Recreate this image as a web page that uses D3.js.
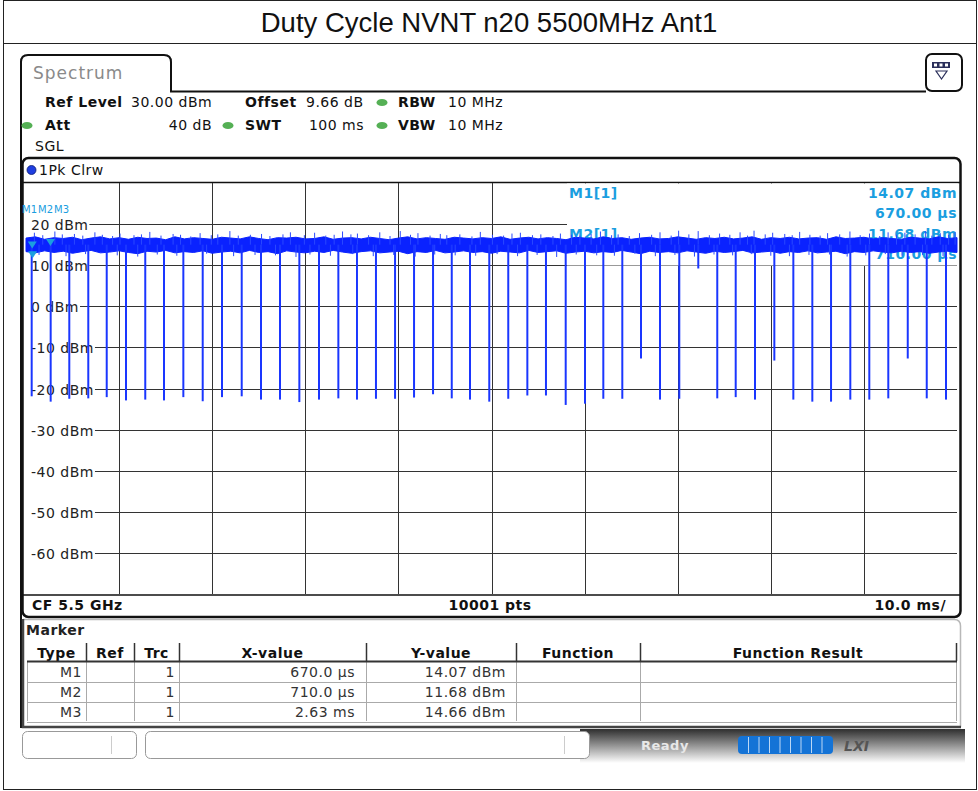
<!DOCTYPE html>
<html><head><meta charset="utf-8">
<script src="https://cdn.jsdelivr.net/npm/d3@7"></script>
<style>
body{margin:0;background:#fff}
svg{display:block}
.inst{font-family:"DejaVu Sans",Verdana,sans-serif;font-size:14px;letter-spacing:0.5px}
.b{font-weight:bold}
</style>
</head><body>
<svg id="c" width="978" height="791"></svg>
<script>
// ---------------- data ----------------
const chartTitle = "Duty Cycle NVNT n20 5500MHz Ant1";
const yTickValues = [20, 10, 0, -10, -20, -30, -40, -50, -60];
const yTickLabels = ["20 dBm", "10 dBm", "0 dBm", "-10 dBm", "-20 dBm", "-30 dBm", "-40 dBm", "-50 dBm", "-60 dBm"];
const xDivisions = [10, 20, 30, 40, 50, 60, 70, 80, 90];
// dips (off periods) of the burst train: time in ms, level in dBm
const dipTimes = [0.61,2.65,4.65,6.69,8.67,10.74,12.81,14.82,16.90,18.98,21.05,23.17,25.24,27.28,29.36,31.47,33.55,35.55,37.59,39.64,41.68,43.72,45.73,47.69,49.76,51.80,53.85,55.85,57.97,60.04,62.01,64.05,66.06,68.10,70.17,72.21,74.25,76.23,78.30,80.38,82.42,84.46,86.47,88.54,90.58,92.62,94.71,96.75,98.82];
const dipLevels = [-21.9,-23.2,-22.5,-22.4,-22.1,-22.9,-22.7,-22.9,-22.1,-23.1,-22.1,-21.9,-22.7,-22.7,-23.3,-22.7,-22.4,-22.7,-22.5,-22.5,-22.2,-21.4,-22.4,-22.7,-23.2,-22.5,-21.7,-21.7,-24.0,-23.7,-22.5,-22.5,-12.7,-22.7,-22.5,9.2,-22.4,-22.1,-22.7,-13.2,-22.7,-23.2,-23.2,-22.7,-22.7,-22.4,-12.7,-22.4,-22.7];
// on-level noise band envelope, read every 1 ms (0..100 ms)
const bandHigh = [16.6,16.9,16.3,16.7,16.5,16.8,16.2,16.6,16.9,16.4,16.7,16.3,16.8,16.5,16.6,16.2,16.9,16.4,16.7,16.5,16.3,16.8,16.6,16.4,16.9,16.5,16.2,16.7,16.6,16.8,16.4,16.5,16.9,16.3,16.6,16.7,16.4,16.8,16.5,16.2,16.6,16.9,16.4,16.7,16.5,16.3,16.8,16.6,16.4,16.7,16.5,16.9,16.3,16.6,16.8,16.4,16.7,16.5,16.2,16.8,16.6,16.4,16.9,16.5,16.7,16.3,16.6,16.8,16.4,16.5,16.9,16.6,16.3,16.7,16.5,16.8,16.4,16.6,16.9,16.3,16.7,16.5,16.8,16.4,16.6,16.7,16.3,16.9,16.5,16.6,16.8,16.4,16.7,16.5,16.3,16.8,16.6,16.4,16.9,16.5,16.7];
const bandLow = [13.3,13.0,13.5,13.1,13.4,12.9,13.3,13.6,13.0,13.2,13.5,13.1,12.8,13.4,13.2,13.6,13.0,13.3,13.1,13.5,12.9,13.2,13.4,13.0,13.6,13.1,13.3,12.8,13.5,13.2,13.0,13.4,13.1,13.6,13.2,12.9,13.3,13.5,13.0,13.2,13.4,12.8,13.3,13.1,13.6,13.0,13.2,13.5,13.1,13.3,12.9,13.4,13.2,13.0,13.6,13.1,13.3,13.5,12.9,13.2,13.4,13.0,13.3,13.1,13.6,13.2,12.8,13.4,13.1,13.3,13.0,13.5,13.2,12.9,13.4,13.1,13.3,13.6,13.0,13.2,13.4,12.9,13.3,13.1,13.5,13.0,13.2,13.4,12.8,13.3,13.1,13.5,13.2,13.0,13.4,13.1,13.3,12.9,13.2,13.4,13.1];
// upward noise spikes: time (ms), peak (dBm)
const spikeTimes = [0.9,1.8,3.1,3.9,5.2,6.1,7.4,8.2,9.3,10.1,11.6,12.4,13.3,14.5,15.8,16.6,17.7,18.7,19.9,20.6,21.9,22.8,24.1,25.3,26.2,27.6,28.4,29.9,31.0,32.2,33.1,34.0,34.9,35.6,36.8,38.0,39.1,40.2,41.3,42.1,43.4,44.5,45.2,46.6,47.9,48.8,50.1,51.3,52.2,53.1,54.4,55.3,56.6,57.4,58.6,59.5,60.7,61.7,62.9,63.6,64.8,65.9,67.2,68.1,69.3,70.1,71.2,72.2,73.4,74.5,75.6,76.7,77.5,78.2,79.4,80.2,81.5,82.3,83.1,84.2,85.3,86.1,87.4,88.5,89.6,90.6,91.7,92.6,93.5,94.4,95.5,96.6,97.3,98.2,99.1,99.8];
const spikeLevels = [17.9,17.3,18.2,17.5,17.6,17.2,18.0,17.4,17.1,17.7,17.3,17.5,18.1,17.2,17.6,17.4,17.0,17.8,17.3,17.5,18.3,17.2,17.4,17.6,17.1,17.5,18.0,17.3,17.9,17.2,17.4,18.2,17.5,17.7,17.3,18.0,17.1,18.3,17.4,17.8,17.2,17.6,17.3,17.5,17.0,18.1,17.4,17.2,17.7,17.9,17.3,17.5,17.1,17.7,17.4,17.2,17.6,18.2,17.3,17.5,17.1,17.8,17.4,18.0,17.2,18.4,17.5,18.3,17.3,17.7,17.4,18.0,17.2,18.4,17.5,17.9,17.6,17.3,18.1,17.4,17.2,17.8,17.5,18.2,17.3,17.7,17.1,18.0,17.4,17.9,17.5,18.3,17.2,17.8,17.4,18.1];
// downward noise spikes: time (ms), trough (dBm)
const dropTimes = [1.4,4.3,6.4,9.8,12.0,14.1,16.2,19.4,22.3,24.6,26.8,29.0,30.5,32.7,35.1,37.3,39.5,41.8,43.9,46.1,48.3,50.6,52.8,54.9,57.0,59.1,61.3,63.2,65.4,67.6,69.7,71.8,73.9,75.9,77.9,80.0,82.0,84.1,86.3,88.2,90.2,92.3,94.1,96.3,98.5];
const dropLevels = [12.5,12.2,12.7,12.4,12.1,12.6,12.3,12.8,12.2,12.5,12.4,12.0,12.6,12.3,12.7,12.2,12.5,12.1,12.6,12.4,12.3,12.7,12.2,12.5,12.0,12.6,12.4,12.3,12.8,12.2,12.5,12.1,12.6,12.4,12.7,12.3,12.2,12.5,12.6,12.1,12.4,12.7,12.3,12.5,12.2];
// markers
const markerNames = ["M1", "M2", "M3"];
const markerTimes = [0.67, 0.71, 2.63];
const markerLevels = [14.07, 11.68, 14.66];
// header / settings texts
const settingsRow1 = ["Ref Level", "30.00 dBm", "Offset", "9.66 dB", "RBW", "10 MHz"];
const settingsRow2 = ["Att", "40 dB", "SWT", "100 ms", "VBW", "10 MHz"];
// marker table
const tableHeaders = ["Type", "Ref", "Trc", "X-value", "Y-value", "Function", "Function Result"];
const tableType = ["M1", "M2", "M3"];
const tableTrc = ["1", "1", "1"];
const tableX = ["670.0 µs", "710.0 µs", "2.63 ms"];
const tableY = ["14.07 dBm", "11.68 dBm", "14.66 dBm"];
const markerInfo = [["M1[1]", "14.07 dBm", "670.00 µs"], ["M2[1]", "11.68 dBm", "710.00 µs"]];

// ---------------- drawing ----------------
const svg = d3.select("#c");
const L = 26, R = 957, T = 183, B = 594;
const x = d3.scaleLinear().domain([0, 100]).range([L, R]);
const y = d3.scaleLinear().domain([-70, 30]).range([B, T]);
const traceBlue = "#0a22ff";
const markBlue = "#1a9ee0";
const ink = "#111";

// outer frame + title
svg.append("rect").attr("x", 3.5).attr("y", 0.5).attr("width", 973).attr("height", 789)
  .attr("fill", "none").attr("stroke", "#222").attr("stroke-width", 1);
svg.append("line").attr("x1", 3.5).attr("x2", 976.5).attr("y1", 43.5).attr("y2", 43.5).attr("stroke", "#222");
svg.append("text").attr("x", 489).attr("y", 32).attr("text-anchor", "middle")
  .style("font-family", "'Liberation Sans',Arial,sans-serif").style("font-size", "27.5px").attr("fill", ink)
  .text(chartTitle);

// spectrum tab
svg.append("path").attr("d", "M21,728 L21,62 Q21,55 28,55 L164,55 Q171,55 171,62 L171,91.5 L926,91.5")
  .attr("fill", "none").attr("stroke", ink).attr("stroke-width", 2);
svg.append("text").attr("class", "inst").attr("x", 33).attr("y", 79).style("font-size", "17px")
  .style("letter-spacing", "1px").attr("fill", "#8a8a8a").text("Spectrum");
// right button
svg.append("rect").attr("x", 926).attr("y", 54).attr("width", 36).attr("height", 37).attr("rx", 6)
  .attr("fill", "#fff").attr("stroke", ink).attr("stroke-width", 2);
svg.append("rect").attr("x", 932).attr("y", 62).attr("width", 18).attr("height", 6).attr("fill", "#2a2f5a");
[934, 939.5, 945].forEach(v => svg.append("rect").attr("x", v).attr("y", 63.5).attr("width", 3).attr("height", 3).attr("fill", "#fff"));
svg.append("path").attr("d", "M936,71 L947,71 L941.5,79 Z").attr("fill", "#fff").attr("stroke", "#2a2f5a").attr("stroke-width", 1.2);

// settings
function greenDot(cx, cy) {
  svg.append("ellipse").attr("cx", cx).attr("cy", cy).attr("rx", 5.5).attr("ry", 3.6).attr("fill", "#55b055");
}
function txt(cls, tx, ty, s, anchor, color) {
  return svg.append("text").attr("class", cls).attr("x", tx).attr("y", ty)
    .attr("text-anchor", anchor || "start").attr("fill", color || ink).text(s);
}
const r1 = 107, r2 = 130;
txt("inst b", 45, r1, settingsRow1[0]);
txt("inst", 131, r1, settingsRow1[1]);
txt("inst b", 245, r1, settingsRow1[2]);
txt("inst", 306, r1, settingsRow1[3]);
greenDot(382, 102.5);
txt("inst b", 398, r1, settingsRow1[4]);
txt("inst", 448, r1, settingsRow1[5]);
greenDot(27, 125.5);
txt("inst b", 45, r2, settingsRow2[0]);
txt("inst", 212, r2, settingsRow2[1], "end");
greenDot(228, 125.5);
txt("inst b", 245, r2, settingsRow2[2]);
txt("inst", 364, r2, settingsRow2[3], "end");
greenDot(382, 125.5);
txt("inst b", 398, r2, settingsRow2[4]);
txt("inst", 448, r2, settingsRow2[5]);
txt("inst", 35, 151, "SGL");

// plot panel
svg.append("rect").attr("x", 22.5).attr("y", 158).attr("width", 938).attr("height", 459).attr("rx", 6)
  .attr("fill", "#fff").attr("stroke", ink).attr("stroke-width", 2.5);
svg.append("circle").attr("cx", 31.5).attr("cy", 170).attr("r", 4.5).attr("fill", "#1e3ee0").attr("stroke", "#0a1a70").attr("stroke-width", 0.8);
txt("inst", 39, 175, "1Pk Clrw");
svg.append("line").attr("x1", 23).attr("x2", 960).attr("y1", T - 0.5).attr("y2", T - 0.5).attr("stroke", ink).attr("stroke-width", 1.5);
svg.append("line").attr("x1", 23).attr("x2", 960).attr("y1", B + 1).attr("y2", B + 1).attr("stroke", ink).attr("stroke-width", 1.5);

// grid
const grid = svg.append("g");
xDivisions.forEach(d => grid.append("line").attr("x1", Math.round(x(d)) + 0.5).attr("x2", Math.round(x(d)) + 0.5)
  .attr("y1", T).attr("y2", B).attr("stroke", "#333").attr("stroke-width", 1));
yTickValues.forEach((v, i) => {
  const yy = Math.round(y(v)) + 0.5;
  const t = grid.append("text").attr("class", "inst").attr("x", 31).attr("y", yy + 5).attr("fill", "#222").text(yTickLabels[i]);
  const w = t.node().getComputedTextLength();
  grid.append("line").attr("x1", 31 + w + 1).attr("x2", R).attr("y1", yy).attr("y2", yy).attr("stroke", "#333").attr("stroke-width", 1);
});
// marker info box
svg.append("rect").attr("x", 567).attr("y", T + 0.5).attr("width", R - 567 + 1).attr("height", 82).attr("fill", "#fff");
const infoY = [198, 218, 239, 259];
markerInfo.forEach((m, i) => {
  txt("inst b", 569, infoY[i * 2], m[0], "start", markBlue);
  txt("inst b", 957, infoY[i * 2], m[1], "end", markBlue);
  txt("inst b", 957, infoY[i * 2 + 1], m[2], "end", markBlue);
});

// trace
const tr = svg.append("g");
const bandStep = 100 / (bandHigh.length - 1);
const area = d3.area().x((d, i) => x(i * bandStep)).y0((d, i) => y(bandLow[i])).y1(d => y(d));
tr.append("path").datum(bandHigh).attr("d", area).attr("fill", traceBlue).attr("stroke", traceBlue).attr("stroke-width", 1);
spikeTimes.forEach((t, i) => tr.append("line").attr("x1", x(t)).attr("x2", x(t)).attr("y1", y(15)).attr("y2", y(spikeLevels[i]))
  .attr("stroke", "#2a48ff").attr("stroke-width", 1));
dropTimes.forEach((t, i) => tr.append("line").attr("x1", x(t)).attr("x2", x(t)).attr("y1", y(15)).attr("y2", y(dropLevels[i]))
  .attr("stroke", "#2a48ff").attr("stroke-width", 1));
dipTimes.forEach((t, i) => tr.append("line").attr("x1", x(t)).attr("x2", x(t)).attr("y1", y(15)).attr("y2", y(dipLevels[i]))
  .attr("stroke", "#1a36ff").attr("stroke-width", 2));

// markers
markerNames.forEach((n, i) => {
  const px = x(markerTimes[i]), py = y(markerLevels[i]);
  svg.append("path").attr("d", `M${px - 4.5},${py - 7} L${px + 4.5},${py - 7} L${px},${py} Z`).attr("fill", markBlue);
});
const mlab = [[22, 213], [38, 213], [54, 213]];
markerNames.forEach((n, i) => svg.append("text").attr("class", "inst").attr("x", mlab[i][0]).attr("y", mlab[i][1])
  .style("font-size", "10px").style("letter-spacing", "0px").attr("fill", markBlue).text(n));

// footer of plot panel
txt("inst b", 32, 610, "CF 5.5 GHz");
txt("inst b", 490, 610, "10001 pts", "middle");
txt("inst b", 946, 610, "10.0 ms/", "end");

// marker table panel
svg.append("path").attr("d", "M23,619.5 L954,619.5 Q960.5,619.5 960.5,626 L960.5,727")
  .attr("fill", "none").attr("stroke", "#b8b8b8").attr("stroke-width", 1.5);
svg.append("path").attr("d", "M23,619 L23,727 L961,727").attr("fill", "none").attr("stroke", "#444").attr("stroke-width", 2.5);
txt("inst b", 26, 635, "Marker", "start", "#222");
const colEdges = [27, 86, 134, 179, 366, 516, 640, 956];
const hdrTop = 643, hdrBot = 661, rowH = 20;
for (let c = 0; c < colEdges.length; c++) {
  if (c > 0) svg.append("line").attr("x1", colEdges[c] + 0.5).attr("x2", colEdges[c] + 0.5).attr("y1", hdrTop).attr("y2", hdrBot)
    .attr("stroke", "#333").attr("stroke-width", 1.5);
  svg.append("line").attr("x1", colEdges[c] + 0.5).attr("x2", colEdges[c] + 0.5).attr("y1", hdrBot).attr("y2", hdrBot + 3 * rowH)
    .attr("stroke", "#aaa").attr("stroke-width", 1);
}
tableHeaders.forEach((h, i) => txt("inst b", (colEdges[i] + colEdges[i + 1]) / 2, 658, h, "middle"));
svg.append("line").attr("x1", 27).attr("x2", 957).attr("y1", hdrBot + 0.5).attr("y2", hdrBot + 0.5).attr("stroke", "#333").attr("stroke-width", 2);
for (let r = 1; r <= 3; r++) {
  svg.append("line").attr("x1", 27).attr("x2", 957).attr("y1", hdrBot + r * rowH + 1.5).attr("y2", hdrBot + r * rowH + 1.5)
    .attr("stroke", "#aaa").attr("stroke-width", 1);
}
tableType.forEach((t, r) => {
  const by = hdrBot + r * rowH + 16;
  txt("inst", 82, by, t, "end", "#333");
  txt("inst", 175, by, tableTrc[r], "end", "#333");
  txt("inst", 355, by, tableX[r], "end", "#333");
  txt("inst", 506, by, tableY[r], "end", "#333");
});

// status bar
const defs = svg.append("defs");
const g = defs.append("linearGradient").attr("id", "sb").attr("x1", 0).attr("x2", 0).attr("y1", 0).attr("y2", 1);
g.append("stop").attr("offset", "0%").attr("stop-color", "#2e2e2e");
g.append("stop").attr("offset", "100%").attr("stop-color", "#ffffff");
svg.append("rect").attr("x", 580).attr("y", 729).attr("width", 385).attr("height", 34).attr("fill", "url(#sb)");
svg.append("rect").attr("x", 22.5).attr("y", 731.5).attr("width", 114).attr("height", 27).attr("rx", 5).attr("fill", "#fff").attr("stroke", "#999");
svg.append("line").attr("x1", 111.5).attr("x2", 111.5).attr("y1", 736).attr("y2", 754).attr("stroke", "#ccc");
svg.append("rect").attr("x", 145.5).attr("y", 731.5).attr("width", 444).attr("height", 27).attr("rx", 5).attr("fill", "#fff").attr("stroke", "#999");
svg.append("line").attr("x1", 564.5).attr("x2", 564.5).attr("y1", 736).attr("y2", 754).attr("stroke", "#ccc");
txt("inst b", 641, 750, "Ready", "start", "#e8e8e8").style("font-size", "13px");
svg.append("rect").attr("x", 738).attr("y", 736).attr("width", 95).attr("height", 18).attr("rx", 4).attr("fill", "#1473d6");
d3.range(1, 9).forEach(k => svg.append("line").attr("x1", 738 + k * 10.5).attr("x2", 738 + k * 10.5).attr("y1", 737).attr("y2", 753).attr("stroke", "#bcd8f5").attr("stroke-width", 1));
svg.append("text").attr("x", 844).attr("y", 751).style("font-family", "'DejaVu Sans',sans-serif").style("font-size", "14px")
  .style("font-weight", "bold").style("font-style", "italic").attr("fill", "#555").text("LXI");
</script>
</body></html>
